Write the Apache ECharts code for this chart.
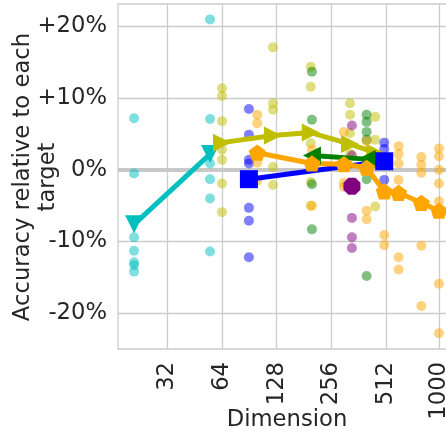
<!DOCTYPE html>
<html><head><meta charset="utf-8">
<script src="https://cdn.jsdelivr.net/npm/echarts@6/dist/echarts.min.js"></script>
<style>html,body{margin:0;padding:0;background:#fff}#c{width:446px;height:433px}</style>
</head><body><div id="c"></div>
<script>
// ---- tick labels ----
const xTicks = [32, 64, 128, 256, 512, 1000];
const yTicks = [-20, -10, 0, 10, 20];

// ---- per-target scatter values [dimension, % relative accuracy] ----
const cyanPoints = [[21,7.2],[21,-0.5],[21,-9.4],[21,-11.3],[21,-12.9],[21,-13.3],[21,-14.2],
  [55,21.0],[55,7.1],[55,0.9],[55,-1.3],[55,-4.0],[55,-11.4]];
const bluePoints = [[90,8.5],[90,4.9],[90,1.4],[90,0.9],[90,-5.3],[90,-7.1],[90,-12.2],
  [500,3.8],[500,2.9],[500,-1.4]];
const olivePoints = [[64,11.4],[64,10.3],[64,6.8],[64,2.8],[64,1.4],[64,-1.9],[64,-5.9],
  [122,17.1],[122,9.3],[122,8.4],[122,0.4],[122,-2.1],
  [197,14.4],[197,11.6],[197,3.7],[197,-1.7],[197,-5.0],
  [324,9.3],[324,7.7],[324,5.1],[324,2.3],
  [446,7.4],[446,4.2],[446,-5.1]];
const greenPoints = [[200,13.7],[200,7.0],[200,-2.0],[200,-8.3],
  [400,7.7],[400,6.7],[400,5.3],[400,4.2],[400,-1.3],[400,-14.8]];
const orangePoints = [[100,7.7],[100,6.5],[100,1.0],[100,-1.5],
  [200,2.8],[200,-5.0],
  [300,5.3],[300,-1.8],[300,-2.4],
  [400,4.0],[400,-5.7],[400,-6.9],
  [500,-9.1],[500,-10.5],
  [600,3.3],[600,2.2],[600,0.9],[600,-1.4],[600,-12.2],[600,-13.9],
  [800,1.8],[800,0.7],[800,-0.4],[800,-10.6],[800,-19.0],
  [1000,3.0],[1000,1.9],[1000,0.0],[1000,-1.9],[1000,-4.4],[1000,-15.9],[1000,-22.8]];
const purplePoints = [[332,6.2],[332,2.0],[332,-6.7],[332,-9.4],[332,-10.9]];

// ---- mean lines ----
const cyanDims = [21, 55];            const cyanMeans = [-7.6, 2.2];
const oliveDims = [64, 122, 197, 324, 446]; const oliveMeans = [3.8, 4.8, 5.2, 3.6, 2.4];
const greenDims = [200, 400];         const greenMeans = [2.0, 1.5];
const blueDims = [90, 500];           const blueMeans = [-1.3, 1.2];
const orangeDims = [100, 200, 300, 400, 500, 600, 800, 1000];
const orangeMeans = [2.4, 0.9, 0.8, 0.3, -3.0, -3.2, -4.6, -5.7];
const purpleDims = [332];             const purpleMeans = [-2.3];

const C = {cyan:'#00bfbf', blue:'#0000ff', olive:'#bfbf00', green:'#008000', orange:'#ffa500', purple:'#800080'};
const FONT = 'DejaVu Sans', TXT = '#262626', GRID = '#cccccc', FS = 22.7;
const PENTAGON = 'path://M0,-1L0.951,-0.309L0.588,0.809L-0.588,0.809L-0.951,-0.309Z';
const OCTAGON = 'path://M-0.414,-1L0.414,-1L1,-0.414L1,0.414L0.414,1L-0.414,1L-1,0.414L-1,-0.414Z';

const zip = (xs, ys) => xs.map((x, i) => [x, ys[i]]);
function sc(name, pts, color, extra) {
  return Object.assign({ type:'scatter', name, data: pts, symbolSize: 10,
    itemStyle:{ color, opacity: 0.5 }, silent: true, z: 2 }, extra || {});
}
function ln(name, xs, ys, color, symbol, rot, size) {
  return { type:'line', name, data: zip(xs, ys), symbol, symbolRotate: rot, symbolSize: size,
    symbolKeepAspect: true, showSymbol: true,
    lineStyle:{ color, width: 5 }, itemStyle:{ color, opacity: 1 }, silent: true, z: 3, animation:false };
}

const chart = echarts.init(document.getElementById('c'), null, {renderer:'canvas'});
chart.setOption({
  animation: false,
  backgroundColor: '#ffffff',
  grid: { left: 118, top: 4, right: -3, bottom: 84, show: true, borderColor: GRID, borderWidth: 1.3,
    containLabel: false, outerBoundsMode: 'none' },
  xAxis: {
    type: 'log', logBase: 2, min: 17.13, max: 1136,
    axisLine: { show: false }, axisTick: { show: false, customValues: xTicks },
    axisLabel: { customValues: xTicks, rotate: 90, margin: 13, fontFamily: FONT, fontSize: FS, color: TXT,
      formatter: v => String(Math.round(v)) },
    splitLine: { show: true, lineStyle: { color: GRID, width: 1.3 } }
  },
  yAxis: {
    type: 'value', min: -25, max: 23.15,
    axisLine: { show: false }, axisTick: { show: false, customValues: yTicks },
    axisLabel: { customValues: yTicks, margin: 11, fontFamily: FONT, fontSize: FS, color: TXT,
      formatter: v => (v > 0 ? '+' : '') + Math.round(v) + '%' },
    splitLine: { show: true, lineStyle: { color: GRID, width: 1.3 } }
  },
  graphic: [{
    type: 'text', x: 36, y: 177, rotation: Math.PI / 2,
    style: { text: 'Accuracy relative to each\ntarget', fontSize: FS, fontFamily: FONT, fill: TXT,
      align: 'center', verticalAlign: 'middle', textAlign: 'center', textVerticalAlign: 'middle', lineHeight: 25 }
  }, {
    type: 'text', x: 287, y: 420,
    style: { text: 'Dimension', fontSize: FS, fontFamily: FONT, fill: TXT,
      align: 'center', verticalAlign: 'middle', textAlign: 'center', textVerticalAlign: 'middle' }
  }],
  series: [
    sc('cyan pts', cyanPoints, C.cyan, {
      markLine: { silent: true, symbol: 'none', label: { show: false },
        lineStyle: { color: '#c8c8c8', width: 4, type: 'solid' }, data: [{ yAxis: 0 }], z: 1 }
    }),
    sc('blue pts', bluePoints, C.blue),
    sc('olive pts', olivePoints, C.olive),
    sc('green pts', greenPoints, C.green),
    sc('orange pts', orangePoints, C.orange),
    sc('purple pts', purplePoints, C.purple),
    ln('cyan', cyanDims, cyanMeans, C.cyan, 'triangle', 180, 18),
    ln('olive', oliveDims, oliveMeans, C.olive, 'triangle', -90, 18),
    ln('green', greenDims, greenMeans, C.green, 'triangle', 90, 18),
    ln('blue', blueDims, blueMeans, C.blue, 'rect', 0, 18),
    ln('orange', orangeDims, orangeMeans, C.orange, PENTAGON, 0, 17),
    ln('purple', purpleDims, purpleMeans, C.purple, OCTAGON, 0, 17)
  ]
});
</script>
</body></html>
